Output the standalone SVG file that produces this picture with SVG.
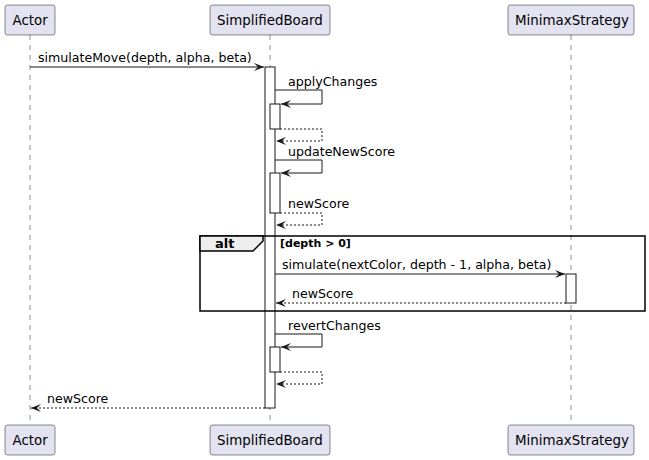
<svg xmlns="http://www.w3.org/2000/svg" width="649" height="460" viewBox="0 0 649 460">
<defs>
<style>
.p{fill:#E2E2F0;stroke:#181818;stroke-width:0.5}
.pt{font-family:"DejaVu Sans",sans-serif;font-size:13.4px;fill:#000}
.m{font-family:"DejaVu Sans",sans-serif;font-size:12.6px;fill:#000}
.ll{stroke:#181818;stroke-width:0.5;stroke-dasharray:5,5;fill:none}
.act{fill:#FFFFFF;stroke:#181818;stroke-width:1}
.s{stroke:#181818;stroke-width:1;fill:none}
.d{stroke:#181818;stroke-width:1;fill:none;stroke-dasharray:2,2}
.ah{fill:#181818}
</style>
<marker id="a" viewBox="0 0 10 8" refX="10" refY="4" markerWidth="10" markerHeight="8" markerUnits="userSpaceOnUse" orient="auto">
<path d="M0,0 L10,4 L0,8 L4,4 Z" class="ah"/>
</marker>
</defs>
<g id="lifelines">
<line class="ll" x1="30" y1="35" x2="30" y2="425"/>
<line class="ll" x1="270" y1="35" x2="270" y2="425"/>
<line class="ll" x1="571" y1="35" x2="571" y2="425"/>
</g>
<g id="actor">
<rect class="p" x="5" y="5" width="50" height="30" rx="2.5"/>
<text class="pt" x="12.5" y="25">Actor</text>
<rect class="p" x="5" y="425" width="50" height="30" rx="2.5"/>
<text class="pt" x="12.5" y="445">Actor</text>
</g>
<g id="simplifiedBoard">
<rect class="p" x="210" y="5" width="120" height="30" rx="2.5"/>
<text class="pt" x="217" y="25">SimplifiedBoard</text>
<rect class="p" x="210" y="425" width="120" height="30" rx="2.5"/>
<text class="pt" x="217" y="445">SimplifiedBoard</text>
</g>
<g id="minimaxStrategy">
<rect class="p" x="508" y="5" width="126" height="30" rx="2.5"/>
<text class="pt" x="515" y="25">MinimaxStrategy</text>
<rect class="p" x="508" y="425" width="126" height="30" rx="2.5"/>
<text class="pt" x="515" y="445">MinimaxStrategy</text>
</g>
<g id="activations">
<rect class="act" x="265" y="67" width="10" height="341"/>
<rect class="act" x="270" y="104" width="10" height="25"/>
<rect class="act" x="270" y="173" width="10" height="40"/>
<rect class="act" x="566" y="274" width="10" height="29"/>
<rect class="act" x="270" y="347" width="10" height="25"/>
</g>
<g id="alt">
<rect x="200" y="236" width="445" height="75" fill="none" stroke="#000" stroke-width="1.5"/>
<path d="M200,236 L263,236 L263,241 L253,251 L200,251 Z" fill="#EEEEEE" stroke="#000" stroke-width="1.5"/>
<text x="215" y="248" font-family="DejaVu Sans,sans-serif" font-size="13" font-weight="bold">alt</text>
<text x="280" y="247" font-family="DejaVu Sans,sans-serif" font-size="11" font-weight="bold">[depth &gt; 0]</text>
</g>
<g id="connectors">
<line class="s" x1="30" y1="67" x2="264" y2="67" marker-end="url(#a)"/>
<text class="m" x="38" y="62">simulateMove(depth, alpha, beta)</text>

<polyline class="s" points="275,90 322,90 322,104 281,104" marker-end="url(#a)"/>
<text class="m" x="288" y="86">applyChanges</text>
<polyline class="d" points="280,129 322,129 322,141 276,141" marker-end="url(#a)"/>

<polyline class="s" points="275,160 322,160 322,173 281,173" marker-end="url(#a)"/>
<text class="m" x="288" y="156">updateNewScore</text>
<polyline class="d" points="280,213 322,213 322,225 276,225" marker-end="url(#a)"/>
<text class="m" x="288" y="208">newScore</text>

<line class="s" x1="275" y1="274" x2="565" y2="274" marker-end="url(#a)"/>
<text class="m" x="282" y="269">simulate(nextColor, depth - 1, alpha, beta)</text>
<line class="d" x1="566" y1="303" x2="276" y2="303" marker-end="url(#a)"/>
<text class="m" x="292" y="298">newScore</text>

<polyline class="s" points="275,334 322,334 322,347 281,347" marker-end="url(#a)"/>
<text class="m" x="288" y="330">revertChanges</text>
<polyline class="d" points="280,372 322,372 322,384 276,384" marker-end="url(#a)"/>

<line class="d" x1="265" y1="408" x2="31" y2="408" marker-end="url(#a)"/>
<text class="m" x="47" y="403">newScore</text>
</g>
</svg>
